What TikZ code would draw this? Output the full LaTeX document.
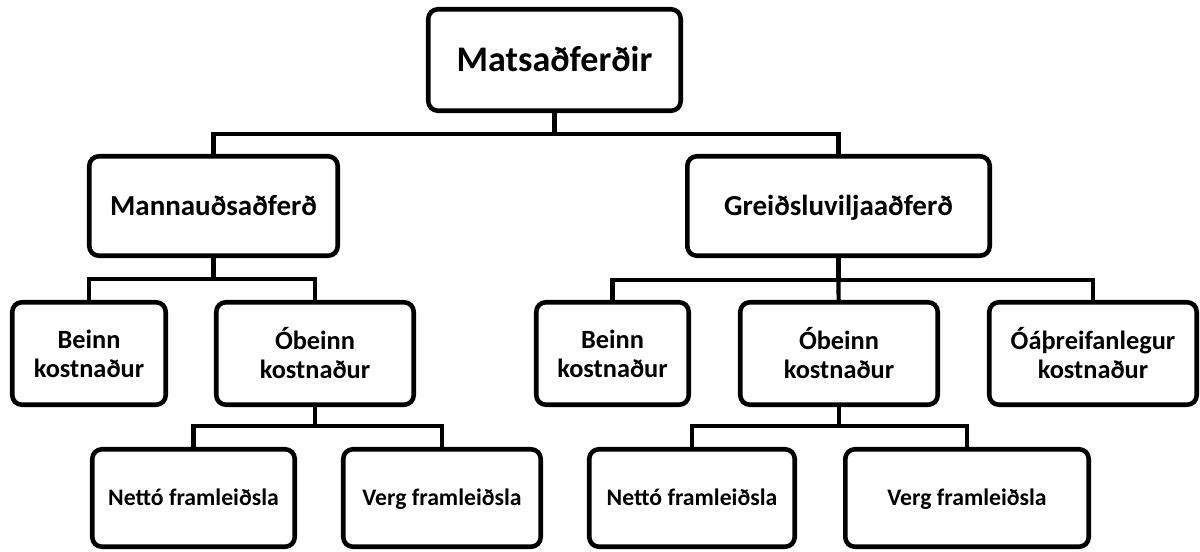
\documentclass[tikz,border=0pt]{standalone}
\usepackage{fontspec}
\setmainfont{Carlito}
\usetikzlibrary{positioning}
\definecolor{boxline}{RGB}{0,0,0}

\begin{document}
\begin{tikzpicture}[x=0.02cm, y=-0.02cm,
    box/.style={draw=boxline, line width=2.6pt, rounded corners=5.5pt, fill=white,
                align=center, inner sep=0pt},
    topbox/.style={box, font=\bfseries\fontsize{20.5pt}{24pt}\selectfont,
                   text height=13.2pt, text depth=0pt},
    methodbox/.style={box, font=\bfseries\fontsize{16.5pt}{20pt}\selectfont,
                      text height=10.6pt, text depth=0pt, minimum height=1.99cm},
    costbox/.style={box, font=\bfseries\fontsize{15pt}{16.5pt}\selectfont,
                    minimum height=2.05cm},
    prodbox/.style={box, font=\bfseries\fontsize{13.5pt}{16pt}\selectfont,
                    text height=8.7pt, text depth=0pt, minimum height=1.95cm},
    link/.style={draw=boxline, line width=2.4pt}]
    \fill[white] (0,0) rectangle (1200,551);
    \useasboundingbox (0,0) rectangle (1200,551);

    % top level
    \node[topbox, minimum width=5.05cm, minimum height=2.03cm] (mats) at (554.5,60) {Matsaðferðir};

    % methods
    \node[methodbox, minimum width=4.97cm] (mann) at (213.5,206) {Mannauðsaðferð};
    \node[methodbox, minimum width=6.05cm] (greid) at (838.5,206) {Greiðsluviljaaðferð};

    % costs
    \node[costbox, minimum width=3.07cm] (beinnL) at (89,353.5) {Beinn\\kostnaður};
    \node[costbox, minimum width=3.95cm] (obeinnL) at (315,353.5) {Óbeinn\\kostnaður};
    \node[costbox, minimum width=3.05cm] (beinnR) at (612.5,353.5) {Beinn\\kostnaður};
    \node[costbox, minimum width=3.95cm] (obeinnR) at (839,353.5) {Óbeinn\\kostnaður};
    \node[costbox, minimum width=4.15cm] (oath) at (1093,353.5) {Óáþreifanlegur\\kostnaður};

    % production
    \node[prodbox, minimum width=4.05cm] (nettoL) at (193.5,498) {Nettó framleiðsla};
    \node[prodbox, minimum width=3.95cm] (vergL) at (442,498) {Verg framleiðsla};
    \node[prodbox, minimum width=4.11cm] (nettoR) at (692,498) {Nettó framleiðsla};
    \node[prodbox, minimum width=4.87cm] (vergR) at (967,498) {Verg framleiðsla};

    % connectors
    \coordinate (matsbus) at (554.5,134);
    \coordinate (mannbus) at (213.5,279);
    \coordinate (greidbus) at (838.5,280);
    \coordinate (obusL) at (315,426);
    \coordinate (obusR) at (839,426);

    \draw[link] (mats) -- (matsbus) -| (mann);
    \draw[link] (matsbus) -| (greid);
    \draw[link] (mann) -- (mannbus) -| (beinnL);
    \draw[link] (mannbus) -| (obeinnL);
    \draw[link] (greid) -- (greidbus) -| (beinnR);
    \draw[link] (greidbus) -| (oath);
    \draw[link] (greidbus) -- (obeinnR);
    \draw[link] (obeinnL) -- (obusL) -| (nettoL);
    \draw[link] (obusL) -| (vergL);
    \draw[link] (obeinnR) -- (obusR) -| (nettoR);
    \draw[link] (obusR) -| (vergR);
\end{tikzpicture}
\end{document}
